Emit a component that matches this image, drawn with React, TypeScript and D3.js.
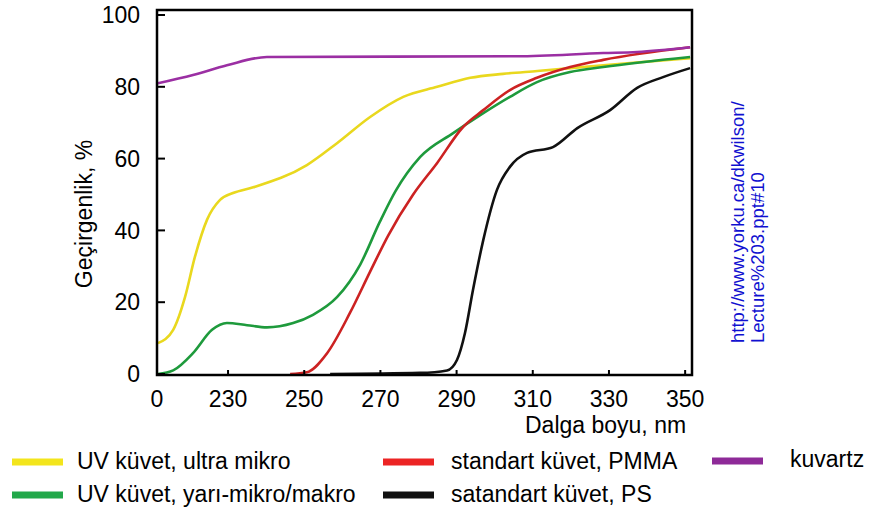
import React from "react";
import * as d3 from "d3";

// wavelength (nm) / transmittance (%)
const yellowNm = [211.6, 215.6, 218.7, 221.3, 224.5, 227.9, 231.3, 236.6, 250.7, 258.6, 267.3, 276, 284.9, 293.6, 302.2, 311.2, 328.5, 351.3];
const yellowT = [8.6, 12.3, 21.4, 32.6, 43, 48.5, 50.4, 52, 58.2, 64.3, 71.6, 77.2, 80, 82.5, 83.6, 84.4, 86, 88];

const greenNm = [211.6, 215.6, 220.8, 225.8, 229.7, 235, 240.2, 247.1, 252.3, 258.6, 264.7, 269.9, 274, 280.4, 289.1, 296.2, 304, 311.1, 319.8, 328.5, 351.3];
const greenT = [0, 1, 5.8, 12.3, 14.2, 13.6, 13, 14.2, 16.5, 21.4, 30.5, 42.5, 51, 60.4, 67.1, 72.1, 77.2, 81.3, 84.1, 85.5, 88.3];

const redNm = [246.3, 250.7, 256, 262, 267.3, 272, 278.6, 284.9, 291.7, 297, 304, 311.1, 319.8, 328.5, 351.3];
const redT = [0, 0.5, 5.8, 17, 28.5, 38.5, 50, 58.8, 68.8, 73.5, 79.1, 82.5, 85.5, 87.5, 91];

const blackNm = [256.8, 280.4, 287.5, 290.1, 292.2, 294.3, 297, 300.6, 304, 308.5, 315.3, 321.7, 330.3, 337.4, 344.2, 351.3];
const blackT = [0, 0.3, 1, 3.9, 11.4, 23.4, 37.3, 51.3, 57.7, 61.6, 63.2, 68.5, 73.5, 79.7, 82.7, 85.2];

const purpleNm = [211.6, 220.8, 229.7, 240.2, 305.9, 328.5, 337.4, 351.3];
const purpleT = [81, 83.3, 86, 88.3, 88.5, 89.4, 89.7, 91];

const xTicks = [211.35, 230, 250, 270, 290, 310, 330, 350];
const xTickLabels = ["0", "230", "250", "270", "290", "310", "330", "350"];
const yTicks = [0, 20, 40, 60, 80, 100];

const series = [
  { name: "UV küvet, ultra mikro", nm: yellowNm, t: yellowT, color: "#e9d81e", legend: "#f3e51c" },
  { name: "UV küvet, yarı-mikro/makro", nm: greenNm, t: greenT, color: "#1e9a3c", legend: "#22a84a" },
  { name: "standart küvet, PMMA", nm: redNm, t: redT, color: "#cc2222", legend: "#ec2424" },
  { name: "satandart küvet, PS", nm: blackNm, t: blackT, color: "#111111", legend: "#111111" },
  { name: "kuvartz", nm: purpleNm, t: purpleT, color: "#9b2fa3", legend: "#8e2a98" },
];

const font = "Arial, 'Liberation Sans', sans-serif";

export default function App() {
  const x = d3.scaleLinear().domain([211.35, 351.8]).range([157, 692]);
  const y = d3.scaleLinear().domain([0, 100]).range([374, 15]);

  const line = d3
    .line<[number, number]>()
    .x((d) => x(d[0]))
    .y((d) => y(d[1]))
    .curve(d3.curveMonotoneX);

  // legend placement
  const legendSpots = [
    { sx: 12, sy: 462, tx: 77, ty: 469 },
    { sx: 12, sy: 495, tx: 77, ty: 502 },
    { sx: 383, sy: 462, tx: 451, ty: 469 },
    { sx: 383, sy: 495, tx: 451, ty: 502 },
    { sx: 712, sy: 461, tx: 790, ty: 467 },
  ];

  return (
    <svg width={871} height={511} style={{ position: "absolute", left: 0, top: 0, background: "#fff" }} fontFamily={font}>
      {series.map((s) => (
        <path
          key={s.name}
          d={line(s.nm.map((v, i) => [v, s.t[i]]) as [number, number][]) || ""}
          fill="none"
          stroke={s.color}
          strokeWidth={2.6}
          strokeLinejoin="round"
        />
      ))}

      {/* frame */}
      <rect x={157} y={10} width={535} height={365} fill="none" stroke="#000" strokeWidth={2.5} />

      {yTicks.map((v) => (
        <g key={"y" + v}>
          <line x1={157} x2={165} y1={y(v)} y2={y(v)} stroke="#000" strokeWidth={2} />
          <text x={140} y={y(v)} dy="0.36em" textAnchor="end" fontSize={23}>
            {v}
          </text>
        </g>
      ))}

      {xTicks.map((v, i) => (
        <g key={"x" + i}>
          {i > 0 && <line x1={x(v)} x2={x(v)} y1={375} y2={370} stroke="#000" strokeWidth={2} />}
          <text x={x(v)} y={407} textAnchor="middle" fontSize={23}>
            {xTickLabels[i]}
          </text>
        </g>
      ))}

      <text x={525} y={433} fontSize={23}>
        Dalga boyu, nm
      </text>
      <text transform="translate(92,214) rotate(-90)" textAnchor="middle" fontSize={23}>
        Geçirgenlik, %
      </text>

      <g fill="#1010d0" fontSize={18.5}>
        <text transform="translate(744,343) rotate(-90)">http://www.yorku.ca/dkwilson/</text>
        <text transform="translate(764,343) rotate(-90)">Lecture%203.ppt#10</text>
      </g>

      {series.map((s, i) => {
        const p = legendSpots[i];
        return (
          <g key={"lg" + i}>
            <line x1={p.sx} x2={p.sx + 51} y1={p.sy} y2={p.sy} stroke={s.legend} strokeWidth={7} />
            <text x={p.tx} y={p.ty} fontSize={23}>
              {s.name}
            </text>
          </g>
        );
      })}
    </svg>
  );
}
